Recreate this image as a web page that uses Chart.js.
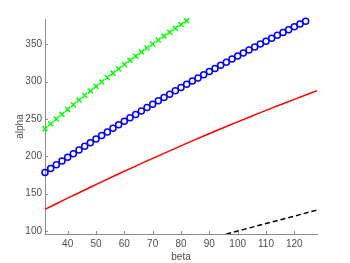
<!DOCTYPE html>
<html>
<head>
<meta charset="utf-8">
<script src="https://cdn.jsdelivr.net/npm/chart.js@4/dist/chart.umd.min.js"></script>
<style>
html,body{margin:0;padding:0;background:#fff;}
#wrap{width:350px;height:263px;position:relative;}
</style>
</head>
<body>
<div id="wrap"><canvas id="c" width="350" height="263"></canvas></div>
<script>
// ---- data ----
const greenBeta = [32,34,36,38,40,42,44,46,48,50,52,54,56,58,60,62,64,66,68,70,72,74,76,78,80,82];
const greenAlpha = [237,243.6,250.1,256.5,262.9,269.2,275.4,281.6,287.7,293.7,299.7,305.6,311.5,317.3,323.0,328.6,334.2,339.7,345.2,350.6,355.9,361.1,366.3,371.5,376.5,381.5];

const blueBeta = [32,34,36,38,40,42,44,46,48,50,52,54,56,58,60,62,64,66,68,70,72,74,76,78,80,82,84,86,88,90,92,94,96,98,100,102,104,106,108,110,112,114,116,118,120,122,124];
const blueAlpha = [178.5,183.6,188.6,193.7,198.7,203.6,208.6,213.5,218.3,223.2,228.0,232.8,237.5,242.2,246.9,251.6,256.2,260.8,265.4,269.9,274.4,278.9,283.3,287.8,292.1,296.5,300.8,305.1,309.4,313.6,317.8,322.0,326.1,330.3,334.3,338.4,342.4,346.4,350.4,354.3,358.2,362.1,365.9,369.7,373.5,377.2,380.9];

const redBeta = [32,36,40,44,48,52,56,60,64,68,72,76,80,84,88,92,96,100,104,108,112,116,120,124,128];
const redAlpha = [129,136.5,144.0,151.3,158.6,165.8,173.0,180.0,187.0,193.9,200.7,207.4,214.1,220.7,227.2,233.6,240.0,246.2,252.4,258.6,264.6,270.5,276.4,282.2,287.9];

const blackBeta = [96,128];
const blackAlpha = [96,128];

const xTicks = [40,50,60,70,80,90,100,110,120];
const yTicks = [100,150,200,250,300,350];
const xRange = [32,128];
const yRange = [96,384];

function pts(xs, ys){ return xs.map((x,i)=>({x:x,y:ys[i]})); }

const axisColor = '#8c8c8c';
const textColor = '#4d4d4d';
const FONT = "'Liberation Sans', Arial, Helvetica, sans-serif";

const inwardTicks = {
  id:'inwardTicks',
  afterDraw(chart){
    const ctx = chart.ctx, a = chart.chartArea;
    const xs = chart.scales.x, ys = chart.scales.y;
    ctx.save();
    ctx.strokeStyle = axisColor;
    ctx.lineWidth = 1;
    ctx.beginPath();
    xTicks.forEach(v=>{
      const px = Math.round(xs.getPixelForValue(v))+0.5;
      ctx.moveTo(px, a.bottom); ctx.lineTo(px, a.bottom-3);
    });
    yTicks.forEach(v=>{
      const py = Math.round(ys.getPixelForValue(v))+0.5;
      ctx.moveTo(a.left, py); ctx.lineTo(a.left+3, py);
    });
    ctx.stroke();
    ctx.restore();
  }
};

new Chart(document.getElementById('c'), {
  type:'line',
  data:{
    datasets:[
      {data:pts(blackBeta,blackAlpha), borderColor:'#000', borderWidth:1.5, borderDash:[5,3], pointRadius:0, fill:false},
      {data:pts(redBeta,redAlpha), borderColor:'#ff0000', borderWidth:1.5, pointRadius:0, fill:false, tension:0},
      {data:pts(blueBeta,blueAlpha), clip:false, showLine:false, pointStyle:'circle', pointRadius:3, pointBorderWidth:1.5, pointBorderColor:'#0000ff', pointBackgroundColor:'rgba(0,0,0,0)', borderColor:'#0000ff'},
      {data:pts(greenBeta,greenAlpha), clip:false, showLine:false, pointStyle:'crossRot', pointRadius:3.5, pointBorderWidth:1.5, pointBorderColor:'#00ff00', borderColor:'#00ff00'}
    ]
  },
  options:{
    responsive:false,
    animation:false,
    events:[],
    layout:{padding:{top:19,right:33,left:0,bottom:0}},
    plugins:{legend:{display:false}, tooltip:{enabled:false}},
    scales:{
      x:{
        type:'linear', min:xRange[0], max:xRange[1],
        afterFit(s){ s.height = 29; },
        afterBuildTicks(s){ s.ticks = xTicks.map(v=>({value:v})); },
        grid:{drawOnChartArea:false, drawTicks:false},
        border:{display:true, color:axisColor, width:1},
        ticks:{padding:4, color:textColor, font:{family:FONT, size:10}, maxRotation:0, autoSkip:false},
        title:{display:true, text:'beta', color:textColor, font:{family:FONT, size:10}, padding:{top:0,bottom:0}}
      },
      y:{
        type:'linear', min:yRange[0], max:yRange[1],
        afterFit(s){ s.width = 45; },
        afterBuildTicks(s){ s.ticks = yTicks.map(v=>({value:v})); },
        grid:{drawOnChartArea:false, drawTicks:false},
        border:{display:true, color:axisColor, width:1},
        ticks:{padding:3, color:textColor, font:{family:FONT, size:10}, autoSkip:false},
        title:{display:true, text:'alpha', color:textColor, font:{family:FONT, size:10}, padding:{top:14,bottom:0}}
      }
    }
  },
  plugins:[inwardTicks]
});
</script>
</body>
</html>
